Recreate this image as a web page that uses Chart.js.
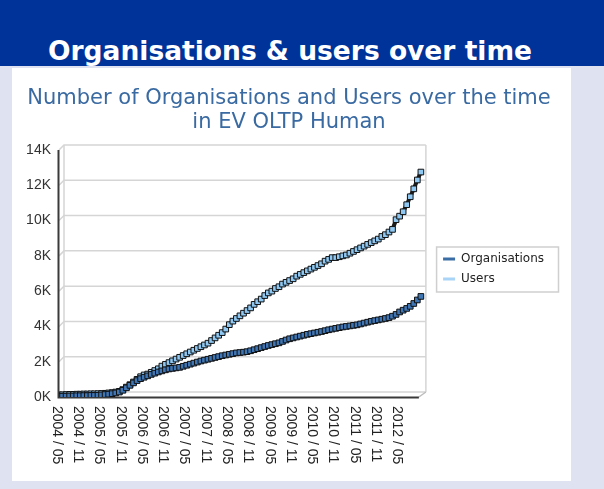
<!DOCTYPE html>
<html>
<head>
<meta charset="utf-8">
<script src="https://cdn.jsdelivr.net/npm/chart.js@4"></script>
<style>
  html, body { margin: 0; padding: 0; }
  body { width: 604px; height: 489px; background: #dfe2f0; position: relative; overflow: hidden; }
  #hdr { position: absolute; left: 0; top: 0; width: 604px; height: 66px; background: #003399; }
  #hdrText { position: absolute; left: 0; top: 36px; width: 580px; text-align: center; color: #ffffff;
             font: bold 26.5px "DejaVu Sans", Verdana, sans-serif; line-height: 30px; white-space: nowrap; }
  #panel { position: absolute; left: 12px; top: 68px; width: 559px; height: 413px; background: #ffffff; }
  #c { position: absolute; left: 0; top: 0; }
</style>
</head>
<body>
<div id="hdr"></div>
<div id="hdrText">Organisations &amp; users over time</div>
<div id="panel"></div>
<canvas id="c" width="604" height="489"></canvas>
<script>
// ---- data (monthly, starting 2004 / 05) ----
const seriesNames = ["Organisations", "Users"];
const organisations = [40,50,50,60,60,70,70,80,80,90,90,100,
  120,140,160,190,230,280,
  380,520,660,800,930,1040,1120,1200,1280,1350,1420,1480,1540,1590,1620,1650,1680,1740,
  1800,1860,1920,1980,2040,2090,2140,2190,2240,2290,2340,2380,2420,2460,2500,2520,2540,2570,
  2620,2680,2740,2800,2860,2920,2970,3020,3070,3150,3230,3300,3350,3400,3450,3500,3550,3590,
  3630,3670,3710,3760,3810,3850,3890,3930,3970,4000,4030,4060,4090,4140,4190,4240,4290,4330,
  4370,4410,4450,4500,4580,4680,4820,4920,5020,5140,5300,5500,5700];
const users = [120,130,140,150,150,160,160,170,170,180,180,190,
  200,210,230,250,280,320,
  420,560,700,850,1000,1150,1250,1300,1400,1500,1600,1750,1850,1950,2050,2150,2250,2350,
  2450,2550,2650,2750,2850,2950,3050,3200,3350,3500,3650,3850,4100,4300,4450,4600,4750,4900,
  5050,5250,5400,5550,5750,5900,6000,6150,6250,6400,6500,6600,6700,6850,6950,7050,7150,7250,
  7350,7450,7550,7700,7800,7900,7900,7950,8000,8050,8150,8250,8350,8450,8550,8650,8750,8850,
  8950,9100,9200,9350,9500,10050,10250,10500,10900,11350,11800,12300,12750];
const tickLabels = ["2004 / 05","2004 / 11","2005 / 05","2005 / 11","2006 / 05","2006 / 11",
  "2007 / 05","2007 / 11","2008 / 05","2008 / 11","2009 / 05","2009 / 11","2010 / 05",
  "2010 / 11","2011 / 05","2011 / 11","2012 / 05"];
const yTicks = [0, 2000, 4000, 6000, 8000, 10000, 12000, 14000];
const titleLines = ["Number of Organisations and Users over the time", "in EV OLTP Human"];

// categories: one per month
const startYear = 2004, startMonth = 5;
const months = organisations.map((_, i) => {
  const m = startMonth - 1 + i;
  return (startYear + Math.floor(m / 12)) + " / " + String(m % 12 + 1).padStart(2, "0");
});

const markerFill = ["#3f77b6", "#8fc8f2"];
const legendFill = ["#3a6ca5", "#a9d4f7"];

const frame3d = {
  id: "frame3d",
  beforeDatasetsDraw(chart) {
    const { ctx, chartArea: a, scales: { x, y } } = chart;
    const d = 5;
    const L = a.left;
    const R = x.getPixelForValue(months.length - 1);   // end of the plotted months
    ctx.save();
    ctx.lineWidth = 1.5;
    ctx.strokeStyle = "#d5d5d5";
    y.ticks.forEach(t => {
      const py = y.getPixelForValue(t.value);
      ctx.beginPath();
      ctx.moveTo(L, py);
      ctx.lineTo(L + d, py - d);
      ctx.lineTo(R + d, py - d);
      ctx.stroke();
    });
    ctx.beginPath();
    ctx.moveTo(L + d, a.top - d); ctx.lineTo(L + d, a.bottom - d);
    ctx.moveTo(R + d, a.top - d); ctx.lineTo(R + d, a.bottom - d);
    ctx.stroke();
    ctx.beginPath();
    ctx.strokeStyle = "#bdbdbd";
    ctx.moveTo(R - 2, a.bottom); ctx.lineTo(R + d, a.bottom - d);
    ctx.stroke();
    ctx.strokeStyle = "#3a3a3a";
    ctx.lineWidth = 2;
    ctx.beginPath();
    ctx.moveTo(L - 0.5, a.top); ctx.lineTo(L - 0.5, a.bottom + 0.5); ctx.lineTo(R - 2, a.bottom + 0.5);
    ctx.stroke();
    ctx.restore();
  },
  afterDraw(chart) {
    const { ctx, chartArea: a, scales: { x } } = chart;
    ctx.save();
    ctx.font = '14px "Liberation Sans", Arial, sans-serif';
    ctx.fillStyle = "#222";
    ctx.textAlign = "left";
    ctx.textBaseline = "middle";
    tickLabels.forEach(lbl => {
      const i = months.indexOf(lbl);
      const px = x.getPixelForValue(i) - 2.5;
      ctx.save();
      ctx.translate(px, a.bottom + 9);
      ctx.rotate(Math.PI / 2);
      ctx.fillText(lbl, 0, 0);
      ctx.restore();
    });
    // legend frame
    const lg = chart.legend;
    if (lg && lg.legendHitBoxes && lg.legendHitBoxes.length) {
      const hb = lg.legendHitBoxes;
      const top = hb[0].top - 6, bottom = hb[hb.length - 1].top + hb[hb.length - 1].height + 7;
      ctx.strokeStyle = "#cfcfcf";
      ctx.lineWidth = 1.5;
      ctx.strokeRect(lg.left + 1.5, top, lg.width + 3, bottom - top);
    }
    ctx.restore();
  }
};

const toPoints = arr => arr.map((v, i) => ({ x: i, y: v }));

new Chart(document.getElementById("c"), {
  type: "line",
  data: {
    datasets: [
      { label: seriesNames[0], data: toPoints(organisations), borderColor: "#1c1c1c", borderWidth: 4,
        pointStyle: "rect", pointRadius: 4, pointBorderWidth: 1, pointBorderColor: "#111",
        pointBackgroundColor: markerFill[0], tension: 0 },
      { label: seriesNames[1], data: toPoints(users), borderColor: "#1c1c1c", borderWidth: 4,
        pointStyle: "rect", pointRadius: 4, pointBorderWidth: 1, pointBorderColor: "#111",
        pointBackgroundColor: markerFill[1], tension: 0 }
    ]
  },
  options: {
    responsive: false,
    animation: false,
    devicePixelRatio: 1,
    layout: { padding: { left: 24, right: 50, top: 77, bottom: 28 } },
    scales: {
      x: {
        type: "linear",
        min: 0, max: 106,
        ticks: { display: false },
        grid: { display: false, drawTicks: false },
        border: { display: false },
        afterFit: s => { s.height = 64; }
      },
      y: {
        min: 0, max: 14000,
        afterBuildTicks: s => { s.ticks = yTicks.map(v => ({ value: v })); },
        ticks: {
          padding: 8,
          color: "#333",
          font: { family: "Liberation Sans", size: 14 },
          callback: v => (v / 1000) + "K"
        },
        grid: { display: false, drawTicks: false },
        border: { display: false },
        afterFit: s => { s.width = 35; }
      }
    },
    plugins: {
      title: {
        display: true,
        text: titleLines,
        color: "#3a6aa2",
        font: { family: "DejaVu Sans", size: 21, weight: "normal", lineHeight: 24 / 21 },
        padding: { top: 10, bottom: 15 }
      },
      legend: {
        position: "right",
        labels: {
          boxWidth: 12,
          boxHeight: 3,
          padding: 8,
          color: "#222",
          font: { family: "DejaVu Sans", size: 12 },
          generateLabels: chart => chart.data.datasets.map((ds, i) => ({
            text: ds.label, fillStyle: legendFill[i], strokeStyle: legendFill[i],
            lineWidth: 0, hidden: false, datasetIndex: i, fontColor: "#222"
          }))
        }
      },
      tooltip: { enabled: false }
    }
  },
  plugins: [frame3d]
});
</script>
</body>
</html>
